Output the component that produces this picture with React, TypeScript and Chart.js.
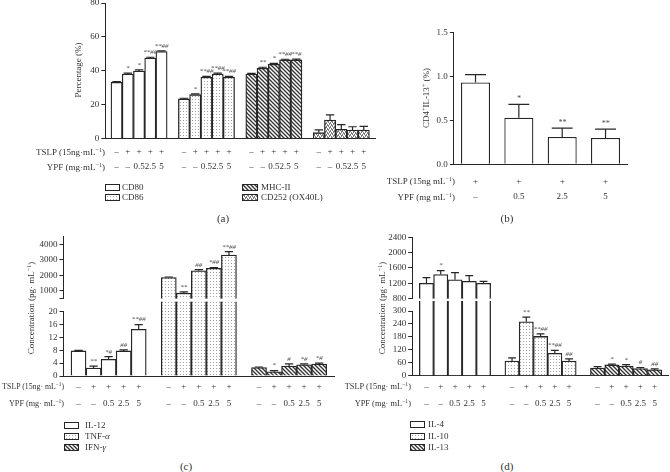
import React, { useEffect, useMemo, useRef } from 'react';
import { Chart, registerables } from 'chart.js';
Chart.register(...registerables);

const FONT = "'Liberation Serif', 'Times New Roman', Times, serif";
const INK = '#262626';
const TXT = '#333';

// ---------------- data ----------------
// shared treatment rows
const tslpRow = ['–', '+', '+', '+', '+'];
const ypfRow = ['–', '–', '0.5', '2.5', '5'];

// (a) surface markers, %
const cd80 = [33.2, 38.1, 39.9, 47.5, 51.3];
const cd80Err = [0.4, 0.5, 0.6, 0.5, 0.5];
const cd80Sig = ['', '*', '*', '**##', '**##'];
const cd86 = [23.4, 25.9, 36.2, 38.1, 36.2];
const cd86Err = [0.4, 0.5, 0.5, 0.5, 0.5];
const cd86Sig = ['', '*', '**##', '**##', '**##'];
const mhc2 = [38.1, 41.5, 43.8, 46.4, 46.4];
const mhc2Err = [0.4, 0.6, 0.6, 0.4, 0.5];
const mhc2Sig = ['', '**', '*', '**##', '**#'];
const cd252 = [3.5, 11.0, 5.5, 5.0, 5.0];
const cd252Err = [1.6, 3.0, 2.7, 2.0, 2.2];
const cd252Sig = ['', '', '', '', ''];
const yTicksA = [0, 20, 40, 60, 80];

// (b) CD4+IL-13+ %
const tslpB = ['+', '+', '+', '+'];
const ypfB = ['–', '0.5', '2.5', '5'];
const cd4il13 = [0.93, 0.53, 0.31, 0.3];
const cd4il13Err = [0.09, 0.15, 0.1, 0.1];
const cd4il13Sig = ['', '*', '**', '**'];
const yTicksB = [0, 0.5, 1.0, 1.5];

// (c) pg/mL
const il12 = [7.8, 2.5, 5.2, 7.8, 14.5];
const il12Err = [0.2, 0.6, 0.8, 0.3, 1.5];
const il12Sig = ['', '**', '*#', '##', '**##'];
const tnf = [1860, 850, 2290, 2450, 3300];
const tnfErr = [30, 80, 70, 50, 220];
const tnfSig = ['', '**', '##', '*##', '**##'];
const ifn = [2.6, 1.3, 3.1, 3.5, 3.7];
const ifnErr = [0.2, 0.4, 0.7, 0.3, 0.3];
const ifnSig = ['', '*', '#', '*#', '*#'];
const yTicksCTop = [500, 1000, 2000, 3000, 4000];
const yTicksCBot = [0, 4, 8, 12, 16, 20];

// (d) pg/mL
const il4 = [1200, 1430, 1290, 1250, 1200];
const il4Err = [150, 100, 190, 150, 50];
const il4Sig = ['', '*', '', '', ''];
const il10 = [68, 250, 182, 104, 68];
const il10Err = [15, 22, 12, 13, 10];
const il10Sig = ['', '**', '**##', '**##', '##'];
const il13 = [35, 50, 45, 33, 27];
const il13Err = [7, 4, 6, 5, 5];
const il13Sig = ['', '*', '*', '#', '##'];
const yTicksDTop = [800, 1200, 1600, 2000, 2400];
const yTicksDBot = [0, 60, 120, 180, 240, 300];

// ---------------- helpers ----------------
type Kind = 'plain' | 'dots' | 'hatch' | 'weave';

function makeTile(kind: Kind): HTMLCanvasElement {
  const c = document.createElement('canvas');
  const g = c.getContext('2d')!;
  if (kind === 'dots') {
    c.width = 3; c.height = 3;
    g.fillStyle = '#fff'; g.fillRect(0, 0, 3, 3);
    g.fillStyle = '#a3a3a3'; g.fillRect(1, 1, 1, 1);
  } else if (kind === 'hatch') {
    c.width = 4; c.height = 4;
    g.fillStyle = '#fff'; g.fillRect(0, 0, 4, 4);
    g.strokeStyle = '#333'; g.lineWidth = 1.35;
    g.beginPath();
    g.moveTo(-1, -1); g.lineTo(5, 5);
    g.moveTo(-1, 3); g.lineTo(1, 5);
    g.moveTo(3, -1); g.lineTo(5, 1);
    g.stroke();
  } else if (kind === 'weave') {
    c.width = 4; c.height = 4;
    g.fillStyle = '#fff'; g.fillRect(0, 0, 4, 4);
    g.fillStyle = '#7d7d7d';
    g.fillRect(0, 0, 2, 1); g.fillRect(1, 1, 1, 1); g.fillRect(3, 1, 1, 1);
    g.fillRect(2, 2, 2, 1); g.fillRect(0, 3, 1, 1); g.fillRect(2, 3, 1, 1);
  } else {
    c.width = 2; c.height = 2;
    g.fillStyle = '#fff'; g.fillRect(0, 0, 2, 2);
  }
  return c;
}

function slot<T>(groups: T[][], gap: T): T[] {
  const out: T[] = [gap];
  groups.forEach((g, i) => {
    if (i) out.push(gap);
    out.push(...g);
  });
  out.push(gap);
  return out;
}

const errPlugin = {
  id: 'errbars',
  afterDatasetsDraw(chart: any, _a: any, opts: any) {
    const ctx = chart.ctx;
    const y = chart.scales.y;
    chart.data.datasets.forEach((ds: any, di: number) => {
      const meta = chart.getDatasetMeta(di);
      meta.data.forEach((el: any, i: number) => {
        const v = ds.data[i];
        if (v == null) return;
        if (v < y.min || v > y.max) return;
        const e = (ds.errors && ds.errors[i]) || 0;
        const top = y.getPixelForValue(v + e);
        const w = el.width * (opts.cap || 0.6);
        ctx.save();
        ctx.strokeStyle = INK;
        ctx.lineWidth = 1.2;
        if (e > 0) {
          ctx.beginPath();
          ctx.moveTo(el.x, el.y);
          ctx.lineTo(el.x, top);
          ctx.moveTo(el.x - w / 2, top);
          ctx.lineTo(el.x + w / 2, top);
          ctx.stroke();
        }
        const s = ds.sig && ds.sig[i];
        if (s) {
          ctx.fillStyle = '#4a4a4a';
          ctx.font = `italic ${opts.size || 7}px ${FONT}`;
          ctx.textAlign = 'center';
          ctx.textBaseline = 'bottom';
          ctx.fillText(s, el.x, top - 1.5);
        }
        ctx.restore();
      });
    });
  },
};

type Spec = {
  L: number; T: number; R: number; B: number;
  wy: number; hx: number;
  labels: any[];
  values: (number | null)[];
  errors: (number | null)[];
  sig: string[];
  kinds: Kind[];
  ymin: number; ymax: number; yticks: number[];
  yfmt: (v: number) => string;
  showX: boolean; offset: boolean; barPct: number;
  cap: number; sigSize: number;
  xPad: number; xLH: number; clipTop: number;
};

function boxFor(s: Spec) {
  const padL = 4, padT = 10, padR = 4, padB = 4;
  const left = Math.floor(s.L - s.wy - padL);
  const top = Math.floor(s.T - padT);
  const w = Math.ceil(s.R + padR - left);
  const h = Math.ceil(s.B + s.hx + padB - top);
  return {
    left, top, w, h,
    pl: s.L - s.wy - left,
    pt: s.T - top,
    pr: left + w - s.R,
    pb: top + h - s.B - s.hx,
  };
}

function ChartBox({ spec }: { spec: Spec }) {
  const ref = useRef<HTMLCanvasElement>(null);
  const box = useMemo(() => boxFor(spec), [spec]);
  useEffect(() => {
    const canvas = ref.current!;
    const ctx = canvas.getContext('2d')!;
    const pats: Record<string, any> = {
      plain: '#ffffff',
      dots: ctx.createPattern(makeTile('dots'), 'repeat'),
      hatch: ctx.createPattern(makeTile('hatch'), 'repeat'),
      weave: ctx.createPattern(makeTile('weave'), 'repeat'),
    };
    const chart = new Chart(ctx, {
      type: 'bar',
      data: {
        labels: spec.labels,
        datasets: [
          {
            data: spec.values as any,
            backgroundColor: spec.kinds.map((k) => pats[k]),
            borderColor: INK,
            borderWidth: 1.3,
            borderSkipped: 'start',
            barPercentage: spec.barPct,
            categoryPercentage: 1,
            clip: { left: 4, right: 4, top: spec.clipTop, bottom: 0 } as any,
            errors: spec.errors,
            sig: spec.sig,
          } as any,
        ],
      },
      options: {
        responsive: false,
        maintainAspectRatio: false,
        animation: false,
        devicePixelRatio: 1,
        events: [],
        layout: { padding: { left: box.pl, top: box.pt, right: box.pr, bottom: box.pb } },
        plugins: {
          legend: { display: false },
          tooltip: { enabled: false },
          errbars: { cap: spec.cap, size: spec.sigSize },
        } as any,
        scales: {
          x: {
            type: 'category',
            display: spec.showX,
            offset: spec.offset,
            grid: { display: true, drawOnChartArea: false, drawTicks: false, offset: spec.offset },
            border: { display: true, color: INK, width: 1 },
            ticks: {
              autoSkip: false,
              maxRotation: 0,
              minRotation: 0,
              padding: spec.xPad,
              color: TXT,
              font: { family: FONT, size: 9, lineHeight: spec.xLH + 'px' } as any,
            },
            afterFit: (sc: any) => { sc.height = spec.hx; },
          },
          y: {
            type: 'linear',
            min: spec.ymin,
            max: spec.ymax,
            afterBuildTicks: (sc: any) => { sc.ticks = spec.yticks.map((v) => ({ value: v })); },
            grid: { display: true, drawOnChartArea: false, drawTicks: true, tickLength: 4, color: INK },
            border: { display: true, color: INK, width: 1 },
            ticks: {
              autoSkip: false,
              padding: 2,
              color: TXT,
              font: { family: FONT, size: 9 },
              callback: (v: any) => spec.yfmt(Number(v)),
            },
            afterFit: (sc: any) => { sc.width = spec.wy; },
          },
        },
      },
      plugins: [errPlugin as any],
    });
    return () => chart.destroy();
  }, [spec, box]);
  return (
    <canvas
      ref={ref}
      width={box.w}
      height={box.h}
      style={{ position: 'absolute', left: box.left, top: box.top, width: box.w, height: box.h }}
    />
  );
}

const Sup = ({ children }: { children: any }) => (
  <span style={{ fontSize: '0.68em', position: 'relative', top: '-0.45em' }}>{children}</span>
);

function Txt({ x, y, a = 'l', s = 9, r = false, children }: any) {
  const tx = a === 'l' ? '0' : a === 'r' ? '-100%' : '-50%';
  return (
    <div
      style={{
        position: 'absolute', left: x, top: y,
        transform: `translate(${tx},-50%)${r ? ' rotate(-90deg)' : ''}`,
        whiteSpace: 'nowrap', fontFamily: FONT, fontSize: s, lineHeight: 1, color: TXT,
      }}
    >
      {children}
    </div>
  );
}

function Swatch({ x, y, url, w = 13 }: any) {
  return (
    <div
      style={{
        position: 'absolute', left: x, top: y - 3, width: w, height: 5,
        border: `1px solid ${INK}`, backgroundColor: '#fff',
        backgroundImage: url ? `url(${url})` : undefined,
      }}
    />
  );
}

const ident = (v: number) => String(v);

export default function App() {
  const urls = useMemo(() => ({
    plain: '',
    dots: makeTile('dots').toDataURL(),
    hatch: makeTile('hatch').toDataURL(),
    weave: makeTile('weave').toDataURL(),
  }), []);

  const specs = useMemo(() => {
    const groupLabels = (n: number) =>
      slot(Array.from({ length: n }, () => tslpRow.map((t, i) => [t, ypfRow[i]])), ['', '']);
    const kindsFor = (ks: Kind[]) => slot(ks.map((k) => Array(5).fill(k)), 'plain' as Kind);

    const a: Spec = {
      L: 105.35, R: 376.3, T: 3, B: 138.6, wy: 30, hx: 40,
      labels: groupLabels(4),
      values: slot([cd80, cd86, mhc2, cd252], null as any),
      errors: slot([cd80Err, cd86Err, mhc2Err, cd252Err], null as any),
      sig: slot([cd80Sig, cd86Sig, mhc2Sig, cd252Sig], ''),
      kinds: kindsFor(['plain', 'dots', 'hatch', 'weave']),
      ymin: 0, ymax: 80, yticks: yTicksA, yfmt: ident,
      showX: true, offset: false, barPct: 1, cap: 0.75, sigSize: 7,
      xPad: 6, xLH: 15, clipTop: 2,
    };
    const b: Spec = {
      L: 453.85, R: 627.2, T: 32.3, B: 164.3, wy: 30, hx: 42,
      labels: tslpB.map((t, i) => [t, ypfB[i]]),
      values: cd4il13, errors: cd4il13Err, sig: cd4il13Sig,
      kinds: ['plain', 'plain', 'plain', 'plain'],
      ymin: 0, ymax: 1.5, yticks: yTicksB, yfmt: (v) => v.toFixed(1),
      showX: true, offset: true, barPct: 0.67, cap: 0.72, sigSize: 8,
      xPad: 9, xLH: 15.7, clipTop: 2,
    };
    const cCommon = {
      L: 63.5, R: 334.2, wy: 36,
      labels: groupLabels(3),
      values: slot([il12, tnf, ifn], null as any),
      errors: slot([il12Err, tnfErr, ifnErr], null as any),
      sig: slot([il12Sig, tnfSig, ifnSig], ''),
      kinds: kindsFor(['plain', 'dots', 'hatch']),
      offset: false, barPct: 1, cap: 0.55, sigSize: 7, xPad: 2.3, xLH: 16.8,
    };
    const cTop: Spec = {
      ...cCommon, T: 236.5, B: 301.7, hx: 0, ymin: 500, ymax: 4500, yticks: yTicksCTop,
      yfmt: (v) => (v === 500 ? '' : String(v)), showX: false, clipTop: 0,
    };
    const cBot: Spec = {
      ...cCommon, T: 311.7, B: 376, hx: 40, ymin: 0, ymax: 20, yticks: yTicksCBot,
      yfmt: ident, showX: true, clipTop: 10,
    };
    const dCommon = {
      L: 412.2, R: 668.9, wy: 36,
      labels: groupLabels(3),
      values: slot([il4, il10, il13], null as any),
      errors: slot([il4Err, il10Err, il13Err], null as any),
      sig: slot([il4Sig, il10Sig, il13Sig], ''),
      kinds: kindsFor(['plain', 'dots', 'hatch']),
      offset: false, barPct: 1, cap: 0.55, sigSize: 7, xPad: 2.3, xLH: 16.8,
    };
    const dTop: Spec = {
      ...dCommon, T: 237.3, B: 301.7, hx: 0, ymin: 800, ymax: 2400, yticks: yTicksDTop,
      yfmt: ident, showX: false, clipTop: 0,
    };
    const dBot: Spec = {
      ...dCommon, T: 311, B: 375.7, hx: 40, ymin: 0, ymax: 300, yticks: yTicksDBot,
      yfmt: ident, showX: true, clipTop: 10,
    };
    return [a, b, cTop, cBot, dTop, dBot];
  }, []);

  const conc = (
    <>Concentration (pg· mL<Sup>−1</Sup>)</>
  );

  return (
    <div style={{ position: 'fixed', left: 0, top: 0, width: 670, height: 472, overflow: 'hidden', background: '#fff' }}>
      {specs.map((s, i) => <ChartBox key={i} spec={s} />)}

      {/* axis titles */}
      <Txt x={78} y={70} a="c" r>Percentage (%)</Txt>
      <Txt x={426} y={98} a="c" r>CD4<Sup>+</Sup>IL-13<Sup>+</Sup> (%)</Txt>
      <Txt x={31} y={308} a="c" r>{conc}</Txt>
      <Txt x={382} y={308} a="c" r>{conc}</Txt>

      {/* row labels */}
      <Txt x={105} y={152} a="r">TSLP (15ng·mL<Sup>−1</Sup>)</Txt>
      <Txt x={105} y={167} a="r">YPF (mg·mL<Sup>−1</Sup>)</Txt>
      <Txt x={455} y={181} a="r">TSLP (15ng mL<Sup>−1</Sup>)</Txt>
      <Txt x={455} y={196.7} a="r">YPF (mg mL<Sup>−1</Sup>)</Txt>
      <Txt x={64} y={386.7} a="r" s={7.8}>TSLP (15ng· mL<Sup>−1</Sup>)</Txt>
      <Txt x={64} y={403.5} a="r" s={8.2}>YPF (mg· mL<Sup>−1</Sup>)</Txt>
      <Txt x={411} y={386.7} a="r" s={8.4}>TSLP (15ng· mL<Sup>−1</Sup>)</Txt>
      <Txt x={411} y={403.7} a="r" s={8.4}>YPF (mg· mL<Sup>−1</Sup>)</Txt>

      {/* legend (a) */}
      <Swatch x={105} y={187} url={urls.plain} />
      <Txt x={122} y={187}>CD80</Txt>
      <Swatch x={105} y={196.5} url={urls.dots} />
      <Txt x={122} y={196.5}>CD86</Txt>
      <Swatch x={242} y={187} url={urls.hatch} w={14} />
      <Txt x={261} y={187}>MHC-II</Txt>
      <Swatch x={242} y={196.5} url={urls.weave} w={14} />
      <Txt x={261} y={196.5}>CD252 (OX40L)</Txt>

      {/* legend (c) */}
      <Swatch x={64} y={425} url={urls.plain} />
      <Txt x={85} y={425}>IL-12</Txt>
      <Swatch x={64} y={436} url={urls.dots} />
      <Txt x={85} y={436}>TNF-<i>α</i></Txt>
      <Swatch x={64} y={447} url={urls.hatch} />
      <Txt x={85} y={447}>IFN-<i>γ</i></Txt>

      {/* legend (d) */}
      <Swatch x={410} y={424} url={urls.plain} />
      <Txt x={428} y={424}>IL-4</Txt>
      <Swatch x={410} y={435.5} url={urls.dots} />
      <Txt x={428} y={435.5}>IL-10</Txt>
      <Swatch x={410} y={447} url={urls.hatch} />
      <Txt x={428} y={447}>IL-13</Txt>

      {/* panel letters */}
      <Txt x={223} y={218} a="c" s={11}>(a)</Txt>
      <Txt x={507} y={218} a="c" s={11}>(b)</Txt>
      <Txt x={186} y={466} a="c" s={11}>(c)</Txt>
      <Txt x={507} y={466} a="c" s={11}>(d)</Txt>
    </div>
  );
}
